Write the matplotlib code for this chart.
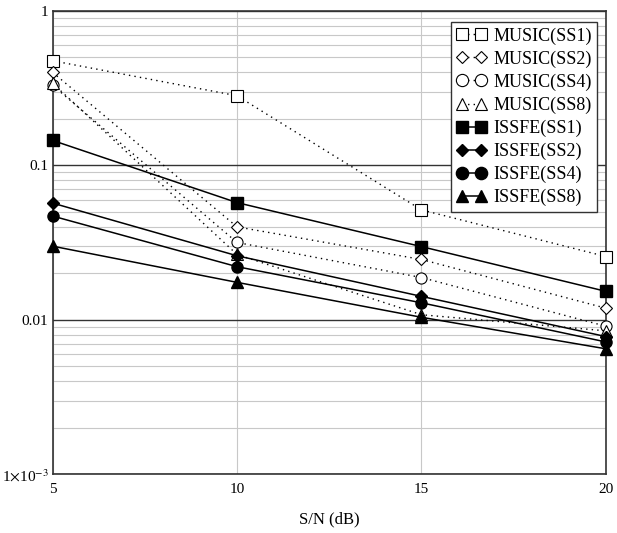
import matplotlib.pyplot as plt
from matplotlib.ticker import FixedLocator, LogLocator, NullFormatter

plt.rcParams['font.family'] = ['Liberation Serif', 'DejaVu Serif']
plt.rcParams['mathtext.fontset'] = 'stix'

# S/N 값 (dB)
snr = [5, 10, 15, 20]

# MUSIC 결과
music_ss1 = [0.475, 0.282, 0.0515, 0.0257]
music_ss2 = [0.40, 0.040, 0.0246, 0.0119]
music_ss4 = [0.33, 0.0317, 0.0188, 0.0091]
music_ss8 = [0.34, 0.0265, 0.0108, 0.0085]

# ISSFE 결과
issfe_ss1 = [0.145, 0.0574, 0.0298, 0.0153]
issfe_ss2 = [0.057, 0.026, 0.0142, 0.0078]
issfe_ss4 = [0.047, 0.0221, 0.0129, 0.0072]
issfe_ss8 = [0.030, 0.0175, 0.0104, 0.0065]

fig = plt.figure(figsize=(6.17, 5.33), dpi=100)
ax = fig.add_axes([0.0851, 0.1098, 0.897, 0.870])

music = [(music_ss1, 's', 8.5, 'MUSIC(SS1)'),
         (music_ss2, 'D', 6, 'MUSIC(SS2)'),
         (music_ss4, 'o', 8, 'MUSIC(SS4)'),
         (music_ss8, '^', 8, 'MUSIC(SS8)')]
issfe = [(issfe_ss1, 's', 8.5, 'ISSFE(SS1)'),
         (issfe_ss2, 'D', 6, 'ISSFE(SS2)'),
         (issfe_ss4, 'o', 8, 'ISSFE(SS4)'),
         (issfe_ss8, '^', 8, 'ISSFE(SS8)')]

for vals, mk, ms, name in music:
    ax.plot(snr, vals, color='black', linestyle=(0, (1, 3)), linewidth=1.0,
            marker=mk, markersize=ms, markerfacecolor='white',
            markeredgecolor='black', markeredgewidth=0.8, label=name,
            clip_on=False, zorder=3)
for vals, mk, ms, name in issfe:
    ax.plot(snr, vals, color='black', linestyle='-', linewidth=1.1,
            marker=mk, markersize=ms, markerfacecolor='black',
            markeredgecolor='black', label=name, clip_on=False, zorder=4)

ax.set_yscale('log')
ax.set_xlim(5, 20)
ax.set_ylim(1e-3, 1)

ax.xaxis.set_major_locator(FixedLocator([5, 10, 15, 20]))
ax.set_xticklabels(['5', '10', '15', '20'])
ax.yaxis.set_major_locator(FixedLocator([1e-3, 1e-2, 1e-1, 1]))
ax.set_yticklabels([r'1$\times$10$^{-3}$', '0.01', '0.1', '1'])
ax.yaxis.set_minor_locator(LogLocator(base=10, subs=range(2, 10)))
ax.yaxis.set_minor_formatter(NullFormatter())
ax.tick_params(which='both', length=0, labelsize=11, pad=3)
ax.tick_params(axis='x', pad=6)

ax.grid(True, which='major', axis='y', color='#333333', linewidth=1.0)
ax.grid(True, which='minor', axis='y', color='#c8c8c8', linewidth=0.8)
ax.grid(True, which='major', axis='x', color='#c8c8c8', linewidth=0.8)
ax.set_axisbelow(True)
for sp in ax.spines.values():
    sp.set_color('#333333')
    sp.set_linewidth(1.2)

ax.set_xlabel('S/N (dB)', fontsize=12, labelpad=11)

leg = ax.legend(loc='upper right', bbox_to_anchor=(0.984, 0.976), borderaxespad=0,
                numpoints=2, handlelength=1.7, handletextpad=0.35, fontsize=13,
                labelspacing=0.32, borderpad=0.3, frameon=True, fancybox=False,
                markerscale=1.1)
leg.get_frame().set_edgecolor('#333333')
leg.get_frame().set_linewidth(1.0)
leg.get_frame().set_alpha(1)

fig.savefig('out.png', dpi=100, facecolor='white')
